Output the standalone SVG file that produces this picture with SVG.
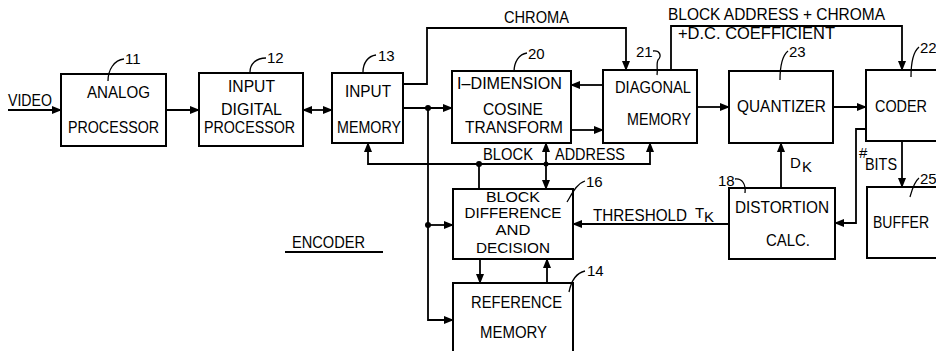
<svg xmlns="http://www.w3.org/2000/svg" width="936" height="351" viewBox="0 0 936 351">
<defs>
<marker id="ah" markerWidth="10" markerHeight="8" refX="9" refY="4" orient="auto-start-reverse" markerUnits="userSpaceOnUse">
<path d="M0,0 L10,4 L0,8 Z" fill="#000"/>
</marker>
<style>
.box{fill:#fff;stroke:#000;stroke-width:2}
.ln{fill:none;stroke:#000;stroke-width:1.8}
.ld{fill:none;stroke:#000;stroke-width:1.3}
.t{font-family:"Liberation Sans",Arial,sans-serif;font-size:16.5px;fill:#000}
.s{font-family:"Liberation Sans",Arial,sans-serif;font-size:15px;fill:#000}
.n{font-family:"Liberation Sans",Arial,sans-serif;font-size:15px;fill:#000}
.dot{fill:#000}
</style>
</defs>
<rect width="936" height="351" fill="#fff"/>

<g id="connectors">
<path class="ln" d="M8,110 H61" marker-end="url(#ah)"/>
<path class="ln" d="M166,110 H199" marker-end="url(#ah)"/>
<path class="ln" d="M303,110 H332" marker-start="url(#ah)" marker-end="url(#ah)"/>
<path class="ln" d="M403,108 H452" marker-end="url(#ah)"/>
<path class="ln" d="M403,84 H427 V28 H626 V70" marker-end="url(#ah)"/>
<path class="ln" d="M603,85 H571" marker-end="url(#ah)"/>
<path class="ln" d="M571,130 H603" marker-end="url(#ah)"/>
<path class="ln" d="M650,143 V164 H368 V143" marker-start="url(#ah)" marker-end="url(#ah)"/>
<path class="ln" d="M479,164 V189"/>
<path class="ln" d="M546,143 V189" marker-start="url(#ah)" marker-end="url(#ah)"/>
<path class="ln" d="M428,108 V320 H453" marker-end="url(#ah)"/>
<path class="ln" d="M428,225 H453" marker-end="url(#ah)"/>
<path class="ln" d="M480,259 V283" marker-end="url(#ah)"/>
<path class="ln" d="M547,283 V259" marker-end="url(#ah)"/>
<path class="ln" d="M729,224 H573" marker-end="url(#ah)"/>
<path class="ln" d="M781,188 V143" marker-end="url(#ah)"/>
<path class="ln" d="M697,107 H729" marker-end="url(#ah)"/>
<path class="ln" d="M833,107 H866" marker-end="url(#ah)"/>
<path class="ln" d="M671,70 V26 H902 V70" marker-end="url(#ah)"/>
<path class="ln" d="M902,141 V187" marker-end="url(#ah)"/>
<path class="ln" d="M866,129 H856 V223 H835" marker-end="url(#ah)"/>
<circle class="dot" cx="428" cy="108" r="3"/>
<circle class="dot" cx="428" cy="225" r="3"/>
<circle class="dot" cx="479" cy="164" r="3"/>
<circle class="dot" cx="546" cy="164" r="2.5"/>
<text class="t" x="8" y="106" textLength="44" lengthAdjust="spacingAndGlyphs">VIDEO</text>
<text class="t" x="504" y="23" textLength="65" lengthAdjust="spacingAndGlyphs">CHROMA</text>
<text class="t" x="668" y="20" textLength="217" lengthAdjust="spacingAndGlyphs">BLOCK ADDRESS + CHROMA</text>
<text class="t" x="678" y="39" textLength="157" lengthAdjust="spacingAndGlyphs">+D.C.  COEFFICIENT</text>
<text class="t" x="483" y="160" textLength="50" lengthAdjust="spacingAndGlyphs">BLOCK</text>
<text class="t" x="555" y="160" textLength="70" lengthAdjust="spacingAndGlyphs">ADDRESS</text>
<text class="t" x="593" y="221" textLength="94" lengthAdjust="spacingAndGlyphs">THRESHOLD</text>
<text class="s" x="695" y="218">T</text>
<text class="s" x="704" y="222" font-size="13">K</text>
<text class="s" x="790" y="168">D</text>
<text class="s" x="802" y="172" font-size="13">K</text>
<text class="s" x="859" y="158" font-size="13">#</text>
<text class="t" x="865" y="170" textLength="32" lengthAdjust="spacingAndGlyphs">BITS</text>
</g>

<g id="encoder-label">
<text class="t" x="292" y="248" textLength="73" lengthAdjust="spacingAndGlyphs">ENCODER</text>
<path class="ln" d="M285,252 H383"/>
</g>

<g id="n11">
<rect class="box" x="61" y="74" width="105" height="72"/>
<text class="t" x="87" y="98" textLength="63" lengthAdjust="spacingAndGlyphs">ANALOG</text>
<text class="t" x="68" y="133" textLength="91" lengthAdjust="spacingAndGlyphs">PROCESSOR</text>
<path class="ld" d="M108,81 C108,70 114,60 124,59"/>
<text class="n" x="125" y="64">11</text>
</g>

<g id="n12">
<rect class="box" x="199" y="73" width="104" height="73"/>
<text class="t" x="228" y="92" textLength="47" lengthAdjust="spacingAndGlyphs">INPUT</text>
<text class="t" x="221" y="115" textLength="61" lengthAdjust="spacingAndGlyphs">DIGITAL</text>
<text class="t" x="204" y="133" textLength="91" lengthAdjust="spacingAndGlyphs">PROCESSOR</text>
<path class="ld" d="M250,72 C250,64 256,58 266,58"/>
<text class="n" x="267" y="63">12</text>
</g>

<g id="n13">
<rect class="box" x="332" y="73" width="71" height="70"/>
<text class="t" x="345" y="97" textLength="46" lengthAdjust="spacingAndGlyphs">INPUT</text>
<text class="t" x="337" y="133" textLength="64" lengthAdjust="spacingAndGlyphs">MEMORY</text>
<path class="ld" d="M363,72 C363,63 368,56 376,55"/>
<text class="n" x="378" y="61">13</text>
</g>

<g id="n20">
<rect class="box" x="452" y="71" width="119" height="72"/>
<text class="t" x="457" y="89" textLength="105" lengthAdjust="spacingAndGlyphs">I–DIMENSION</text>
<text class="t" x="483" y="115" textLength="60" lengthAdjust="spacingAndGlyphs">COSINE</text>
<text class="t" x="465" y="133" textLength="98" lengthAdjust="spacingAndGlyphs">TRANSFORM</text>
<path class="ld" d="M514,72 C514,62 519,54 527,53"/>
<text class="n" x="528" y="59">20</text>
</g>

<g id="n21">
<rect class="box" x="603" y="70" width="94" height="73"/>
<text class="t" x="615" y="93" textLength="76" lengthAdjust="spacingAndGlyphs">DIAGONAL</text>
<text class="t" x="627" y="125" textLength="64" lengthAdjust="spacingAndGlyphs">MEMORY</text>
<path class="ld" d="M653,51 C660,50 662,56 658,60 C656,64 658,70 657,75"/>
<text class="n" x="636" y="57">21</text>
</g>

<g id="n23">
<rect class="box" x="729" y="71" width="104" height="72"/>
<text class="t" x="737" y="112" textLength="89" lengthAdjust="spacingAndGlyphs">QUANTIZER</text>
<path class="ld" d="M780,80 C780,68 782,56 788,51"/>
<text class="n" x="789" y="57" font-size="14">23</text>
</g>

<g id="n22">
<rect class="box" x="866" y="70" width="80" height="71"/>
<text class="t" x="875" y="112" textLength="52" lengthAdjust="spacingAndGlyphs">CODER</text>
<path class="ld" d="M911,77 C911,64 913,52 919,47"/>
<text class="n" x="920" y="53" font-size="14">22</text>
</g>

<g id="n25">
<rect class="box" x="867" y="187" width="80" height="71"/>
<text class="t" x="873" y="228" textLength="56" lengthAdjust="spacingAndGlyphs">BUFFER</text>
<path class="ld" d="M910,197 C912,190 914,182 919,178"/>
<text class="n" x="920" y="184" font-size="14">25</text>
</g>

<g id="n18">
<rect class="box" x="729" y="188" width="106" height="71"/>
<text class="t" x="735" y="213" textLength="94" lengthAdjust="spacingAndGlyphs">DISTORTION</text>
<text class="t" x="766" y="246" textLength="44" lengthAdjust="spacingAndGlyphs">CALC.</text>
<path class="ld" d="M735,179 C742,178 746,184 745,193"/>
<text class="n" x="718" y="186">18</text>
</g>

<g id="n16">
<rect class="box" x="453" y="189" width="120" height="70"/>
<text class="s" x="513" y="202" text-anchor="middle" textLength="54" lengthAdjust="spacingAndGlyphs">BLOCK</text>
<text class="s" x="513" y="218" text-anchor="middle" textLength="97" lengthAdjust="spacingAndGlyphs">DIFFERENCE</text>
<text class="s" x="513" y="235" text-anchor="middle" textLength="35" lengthAdjust="spacingAndGlyphs">AND</text>
<text class="s" x="513" y="253" text-anchor="middle" textLength="74" lengthAdjust="spacingAndGlyphs">DECISION</text>
<path class="ld" d="M567,202 C572,194 576,184 585,181"/>
<text class="n" x="586" y="187">16</text>
</g>

<g id="n14">
<rect class="box" x="453" y="283" width="120" height="72"/>
<text class="t" x="471" y="308" textLength="91" lengthAdjust="spacingAndGlyphs">REFERENCE</text>
<text class="t" x="480" y="338" textLength="67" lengthAdjust="spacingAndGlyphs">MEMORY</text>
<path class="ld" d="M569,292 C571,282 576,273 585,271"/>
<text class="n" x="587" y="276">14</text>
</g>
</svg>
